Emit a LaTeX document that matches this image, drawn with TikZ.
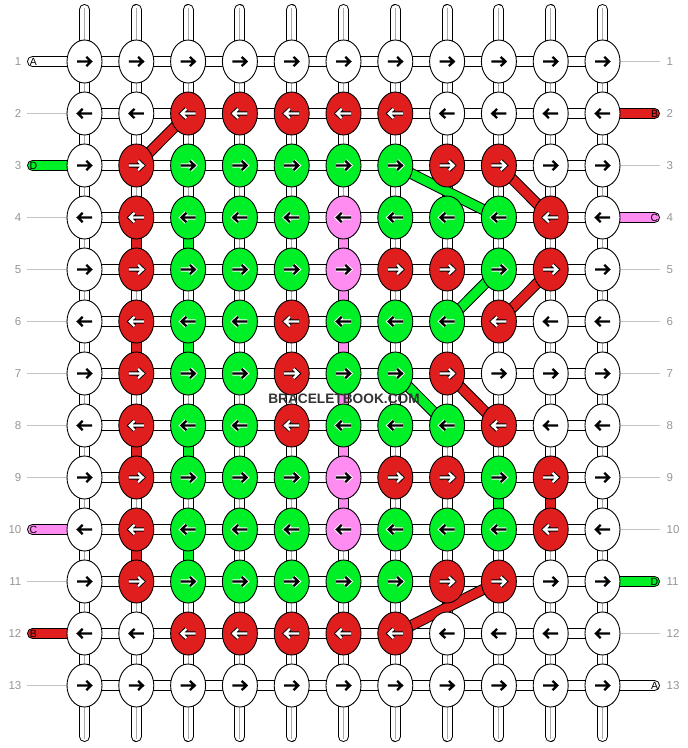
\documentclass[tikz,border=0pt]{standalone}
\usepackage{fontspec}
\setmainfont{Liberation Sans}
\usetikzlibrary{shapes.geometric}
\definecolor{kred}{RGB}{224,30,30}
\definecolor{kgreen}{RGB}{0,240,40}
\definecolor{kpink}{RGB}{255,140,240}
\definecolor{numgray}{RGB}{150,150,150}
\definecolor{rulegray}{RGB}{195,195,195}
\definecolor{midgray}{RGB}{170,170,170}
\definecolor{brandgray}{RGB}{51,51,51}
\tikzset{
  knotbase/.style={ellipse,draw=black,line width=0.9pt,minimum width=35pt,minimum height=43pt,inner sep=0pt},
  knotW/.style={knotbase,fill=white},
  knotR/.style={knotbase,fill=kred},
  knotG/.style={knotbase,fill=kgreen},
  knotP/.style={knotbase,fill=kpink},
  stripout/.style={draw=black,line width=11pt},
  stripin/.style={line width=9pt},
  colmid/.style={draw=midgray,line width=0.9pt},
  rowline/.style={draw=rulegray,line width=1pt},
  numlabel/.style={text=numgray,font=\fontsize{11.5}{12}\selectfont,inner sep=0pt},
  threadletter/.style={font=\fontsize{10.5}{11}\selectfont,inner sep=0pt},
  arrowpath/.style={line cap=butt,line join=miter},
  arroutW/.style={draw=white,line width=4.2pt},
  arrinW/.style={draw=black,line width=2.3pt},
  arroutR/.style={draw=black,line width=4.2pt},
  arrinR/.style={draw=white,line width=2.3pt},
  arroutG/.style={draw=white,line width=4.2pt},
  arrinG/.style={draw=black,line width=2.3pt},
  arroutP/.style={arroutG},
  arrinP/.style={arrinG},
}
\newcommand\knotrow[3]{%
  \foreach \kc [count=\c] in {#3} {
    \node[knot\kc] (n-#1-\c) at (k-#1-\c) {};
    \begin{scope}[shift={(n-#1-\c.center)},xscale=#2]
      \draw[arrowpath,arrout\kc] (-7.5,0) -- (6,0) (1.8,-4.6) -- (6.6,0) -- (1.8,4.6);
      \draw[arrowpath,arrin\kc] (-7.5,0) -- (6,0) (1.8,-4.6) -- (6.6,0) -- (1.8,4.6);
    \end{scope}
  }%
}
\begin{document}
\begin{tikzpicture}[x=1pt,y=-1pt]
\fill[white] (0,0) rectangle (688,748);
\useasboundingbox (0,0) rectangle (688,748);
% knot centres
\foreach \r in {1,...,13} {
  \foreach \c in {1,...,11} {
    \coordinate (k-\r-\c) at ({84.5+(\c-1)*51.8},{61.5+(\r-1)*52});
  }
}
% vertical threads
\foreach \c in {1,...,11} {
  \coordinate (t-\c) at ({84.5+(\c-1)*51.8},9.5);
  \coordinate (b-\c) at ({84.5+(\c-1)*51.8},736.5);
  \draw[stripout,line cap=round] (t-\c) -- (b-\c);
  \draw[stripin,draw=white,line cap=round] (t-\c) -- (b-\c);
  \draw[colmid] ([yshift=2pt]t-\c) -- ([yshift=-2pt]b-\c);
}
% coloured vertical segments
\foreach \r/\c/\col in {4/2/kred,4/3/kgreen,4/6/kpink,5/6/kpink,6/2/kred,6/3/kgreen,6/6/kpink,7/6/kpink,8/2/kred,8/3/kgreen,8/6/kpink,9/6/kpink,9/9/kgreen,9/10/kred,10/2/kred,10/3/kgreen} {
  \pgfmathtruncatemacro\rn{\r+1}
  \draw[stripout] (k-\r-\c) -- (k-\rn-\c);
  \draw[stripin,draw=\col] (k-\r-\c) -- (k-\rn-\c);
}
% horizontal threads
\foreach \r in {1,...,13} {
  \draw[stripout] (k-\r-1) -- (k-\r-11);
  \draw[stripin,draw=white] (k-\r-1) -- (k-\r-11);
}
% row rules and numbers
\foreach \r in {1,...,13} {
  \pgfmathsetmacro\yy{61.5+(\r-1)*52}
  \node[numlabel,anchor=east] (ln-\r) at (21.5,\yy) {\r};
  \node[numlabel,anchor=west] (rn-\r) at (666.5,\yy) {\r};
}
\foreach \r in {2,4,5,6,7,8,9,11,13} {
  \pgfmathsetmacro\yy{61.5+(\r-1)*52}
  \coordinate (lg-\r) at (27,\yy);
  \draw[rowline] (lg-\r) -- (k-\r-1);
}
\foreach \r in {1,3,5,6,7,8,9,10,12} {
  \pgfmathsetmacro\yy{61.5+(\r-1)*52}
  \coordinate (rg-\r) at (660,\yy);
  \draw[rowline] (k-\r-11) -- (rg-\r);
}
% side threads
\foreach \r/\col/\L in {1/white/A,3/kgreen/D,10/kpink/C,12/kred/B} {
  \pgfmathsetmacro\yy{61.5+(\r-1)*52}
  \coordinate (lt-\r) at (32.5,\yy);
  \draw[stripout,line cap=round] (lt-\r) -- (k-\r-1);
  \draw[stripin,draw=\col,line cap=round] (lt-\r) -- (k-\r-1);
  \node[threadletter] (lL-\r) at (33.5,\yy) {\L};
}
\foreach \r/\col/\L in {2/kred/B,4/kpink/C,11/kgreen/D,13/white/A} {
  \pgfmathsetmacro\yy{61.5+(\r-1)*52}
  \coordinate (rt-\r) at (654.5,\yy);
  \draw[stripout,line cap=round] (k-\r-11) -- (rt-\r);
  \draw[stripin,draw=\col,line cap=round] (k-\r-11) -- (rt-\r);
  \node[threadletter] (rL-\r) at (654.5,\yy) {\L};
}
% diagonal threads
\foreach \a/\b/\col in {3-2/2-3/kred,3-7/4-9/kgreen,3-9/4-10/kred,5-9/6-8/kgreen,5-10/6-9/kred,7-7/8-8/kgreen,7-8/8-9/kred,11-9/12-7/kred} {
  \draw[stripout] (k-\a) -- (k-\b);
  \draw[stripin,draw=\col] (k-\a) -- (k-\b);
}
% knots
\knotrow{1}{1}{W,W,W,W,W,W,W,W,W,W,W}
\knotrow{2}{-1}{W,W,R,R,R,R,R,W,W,W,W}
\knotrow{3}{1}{W,R,G,G,G,G,G,R,R,W,W}
\knotrow{4}{-1}{W,R,G,G,G,P,G,G,G,R,W}
\knotrow{5}{1}{W,R,G,G,G,P,R,R,G,R,W}
\knotrow{6}{-1}{W,R,G,G,R,G,G,G,R,W,W}
\knotrow{7}{1}{W,R,G,G,R,G,G,R,W,W,W}
\knotrow{8}{-1}{W,R,G,G,R,G,G,G,R,W,W}
\knotrow{9}{1}{W,R,G,G,G,P,R,R,G,R,W}
\knotrow{10}{-1}{W,R,G,G,G,P,G,G,G,R,W}
\knotrow{11}{1}{W,R,G,G,G,G,G,R,R,W,W}
\knotrow{12}{-1}{W,W,R,R,R,R,R,W,W,W,W}
\knotrow{13}{1}{W,W,W,W,W,W,W,W,W,W,W}
% brand
\node[text=brandgray,font=\bfseries\fontsize{13.7}{14}\selectfont,inner sep=0pt] (brand) at (344,398.5) {BRACELETBOOK.COM};
\end{tikzpicture}
\end{document}
